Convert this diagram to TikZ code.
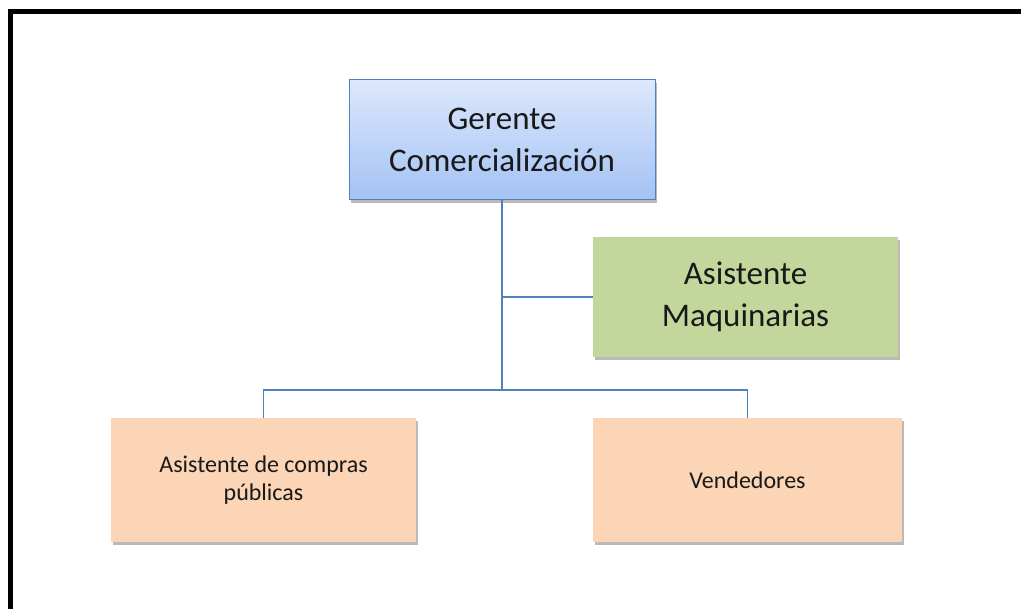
\documentclass[tikz,border=0pt]{standalone}
\usepackage{fontspec}
\setmainfont{Carlito}
\usetikzlibrary{shadows,calc}
\definecolor{lineblue}{HTML}{4F81BD}
\definecolor{topblue}{HTML}{DCE8FC}
\definecolor{botblue}{HTML}{A4C2F4}
\definecolor{boxgreen}{HTML}{C3D69B}
\definecolor{boxpeach}{HTML}{FBD5B5}
\tikzset{
  sh/.style={drop shadow={shadow xshift=2pt, shadow yshift=-3pt, opacity=0.45, fill=black!60}},
  bigbox/.style={rectangle, sh, align=center, inner sep=0pt, font=\fontsize{33}{42}\selectfont, text=black!90},
  smallbox/.style={rectangle, sh, align=center, inner sep=0pt, font=\fontsize{24}{28}\selectfont, text=black!90},
  conn/.style={draw=lineblue, line width=1.4pt}
}
\begin{document}
\begin{tikzpicture}[x=1pt,y=-1pt]
\useasboundingbox (0,0) rectangle (1021,609);
\draw[line width=5pt] (10.5,609) -- (10.5,12) -- (1021,12);
\node[bigbox, top color=topblue, bottom color=botblue, draw=lineblue, line width=1pt,
  minimum width=306pt, minimum height=120pt] (ger) at (502,140) {Gerente\\Comercialización};
\node[bigbox, fill=boxgreen, minimum width=305pt, minimum height=120pt] (maq) at (745.5,297) {Asistente\\Maquinarias};
\node[smallbox, fill=boxpeach, minimum width=305pt, minimum height=124pt] (comp) at (263.5,480) {Asistente de compras\\públicas};
\node[smallbox, fill=boxpeach, minimum width=309pt, minimum height=124pt] (vend) at (747.5,480) {Vendedores};
\coordinate (j) at (502,390);
\draw[conn] (ger.south) -- (j);
\draw[conn] (ger.south |- maq.west) -- (maq.west);
\draw[conn] (comp.north) |- (j);
\draw[conn] (vend.north) |- (j);
\end{tikzpicture}
\end{document}
